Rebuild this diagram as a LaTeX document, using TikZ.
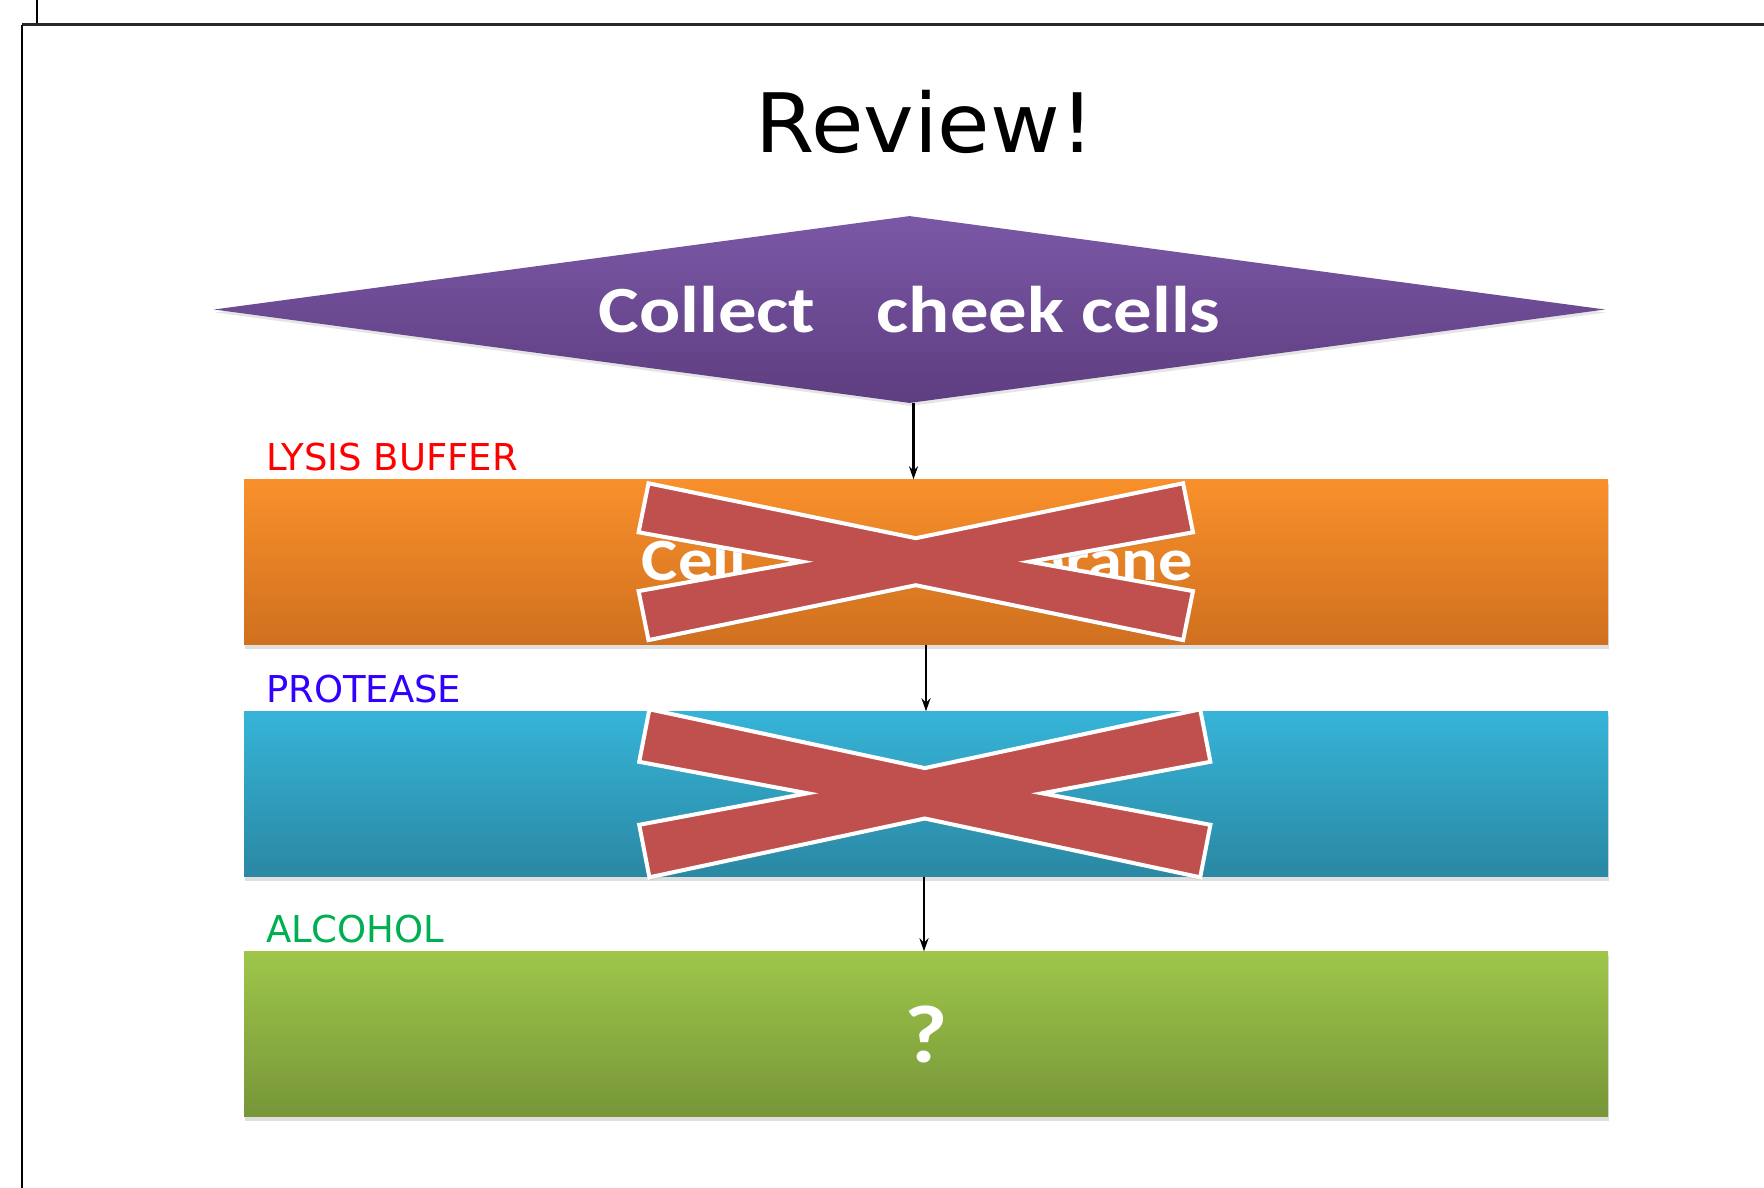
\documentclass[tikz,border=0pt]{standalone}
\usepackage{fontspec}
\newfontfamily\bodyfont{Carlito}
\newfontfamily\headfont{DejaVu Sans}
\usetikzlibrary{shapes.geometric,shadows,arrows.meta}
\definecolor{dmtop}{HTML}{7B58A6}
\definecolor{dmbot}{HTML}{5E3D80}
\definecolor{lystop}{HTML}{F9902B}
\definecolor{lysbot}{HTML}{D0701F}
\definecolor{protop}{HTML}{36B4D8}
\definecolor{probot}{HTML}{2A88A3}
\definecolor{alctop}{HTML}{9EC64A}
\definecolor{alcbot}{HTML}{779639}
\definecolor{lysred}{HTML}{FF0000}
\definecolor{problue}{HTML}{3300FF}
\definecolor{alcgreen}{HTML}{00B050}
\definecolor{xred}{HTML}{C0504D}
\tikzset{
  stagebox/.style={rectangle, minimum width=1364pt, minimum height=165pt, inner sep=0pt,
    drop shadow={shadow xshift=1pt, shadow yshift=-4pt, opacity=.25}},
  steplabel/.style={anchor=base west, inner sep=0pt, font=\headfont\fontsize{37}{44}\selectfont},
  boxtext/.style={text=white, inner sep=0pt, xscale=1.14, font=\bodyfont\bfseries\fontsize{66}{78}\selectfont},
  flowarrow/.style={line width=2.5pt, -{Stealth[length=13pt,width=9pt]}},
  crossfill/.style={fill=xred, draw=white, line width=4pt,
    drop shadow={shadow xshift=1pt, shadow yshift=-3pt, opacity=.2}}
}
\def\stagebox(#1,#2,#3,#4,#5,#6){
  \node[stagebox, top color=#3, bottom color=#4] (#1) at (926,#2) {};
  \node[steplabel, text=#6, xshift=22pt, yshift=9pt] (#1_lb) at (#1.north west) {#5};
}
\def\crossmark(#1,#2,#3,#4){
  \begin{scope}[shift={(#1,#2)}, xscale=#3, yscale=#4]
    \draw[crossfill] (-270,-80) -- (-280,-30) -- (-115,0) -- (-280,30) -- (-270,80) -- (0,24)
      -- (270,80) -- (280,30) -- (115,0) -- (280,-30) -- (270,-80) -- (0,-24) -- cycle;
  \end{scope}
}
\begin{document}
\begin{tikzpicture}[x=1pt, y=-1pt]
\useasboundingbox (0,0) rectangle (1764,1188);
\fill[white] (0,0) rectangle (1764,1188);
% page frame
\draw[line width=1.5pt] (37,0) -- (37,25);
\draw[line width=3pt, black!85] (22,25) -- (1764,25);
\draw[line width=1.5pt] (22,25) -- (22,1188);
\node[anchor=base, inner sep=0pt, xscale=1.04, font=\headfont\fontsize{82}{96}\selectfont] (rev_tt) at (925,153) {Review!};
% diamond
\node[diamond, shape aspect=7.4, minimum width=1391pt, minimum height=187pt, inner sep=0pt,
  top color=dmtop, bottom color=dmbot, drop shadow={shadow xshift=1pt, shadow yshift=-3pt, opacity=.2}] (col_dm) at (909.5,309.5) {};
\node[boxtext, xscale=1.02] (col_tx) at (col_dm) {Collect\hspace{0.8em}cheek cells};
% stages
\stagebox(lys_bx,562,lystop,lysbot,LYSIS BUFFER,lysred)
\stagebox(pro_bx,794,protop,probot,PROTEASE,problue)
\stagebox(alc_bx,1034,alctop,alcbot,ALCOHOL,alcgreen)
\node[boxtext, anchor=base, xshift=-7.5pt, yshift=-18pt, font=\bodyfont\bfseries\fontsize{60}{72}\selectfont] (lys_tx) at (lys_bx.center) {Cell\hspace{1.94em}Membrane};
\node[boxtext, font=\bodyfont\bfseries\fontsize{82}{96}\selectfont] (alc_tx) at (alc_bx) {?};
\crossmark(915.8,561.7,0.99,0.98)
\crossmark(924.8,793.3,1.02,1.05)
% arrows
\draw[flowarrow] ([xshift=4pt]col_dm.south) -- ([xshift=4pt]col_dm.south |- lys_bx.north);
\draw[flowarrow] (lys_bx.south) -- (pro_bx.north);
\draw[flowarrow] ([xshift=-2pt]pro_bx.south) -- ([xshift=-2pt]alc_bx.north);
\end{tikzpicture}
\end{document}
